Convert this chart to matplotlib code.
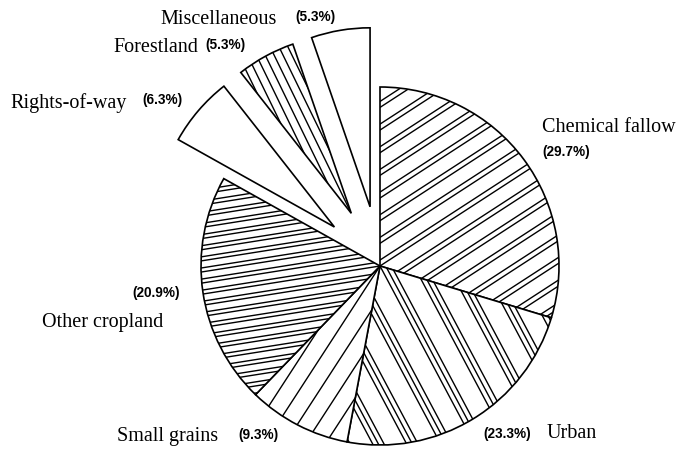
import numpy as np
import matplotlib
matplotlib.use("Agg")
import matplotlib.pyplot as plt

# land use shares (percent), clockwise from 12 o'clock
labels = ["Chemical fallow", "Urban", "Small grains", "Other cropland",
          "Rights-of-way", "Forestland", "Miscellaneous"]
shares = [29.7, 23.3, 9.3, 20.9, 6.3, 5.3, 5.3]
pulled = [False, False, False, False, True, True, True]

# hatch style per wedge: (angle deg, period px, offsets inside period)
hatches = [
    (33, 19, [0, 5]),
    (-62, 30, [0, 5, 10]),
    (57, 17, [0]),
    (9, 11, [0, 4]),
    None,
    (-64, 8, [0]),
    None,
]

W, H = 681, 449
fig = plt.figure(figsize=(W / 100, H / 100), dpi=100)
ax = fig.add_axes([0, 0, 1, 1])

cx, cy, R = 380, H - 266, 179
explode = [60 if p else 0 for p in pulled]  # pie offsets are absolute here
wedges, _ = ax.pie(shares, explode=explode, startangle=90, counterclock=False,
                   radius=R, center=(cx, cy), normalize=True,
                   wedgeprops=dict(facecolor="white", edgecolor="black", linewidth=1.2))
ax.set_xlim(0, W)
ax.set_ylim(0, H)
ax.set_aspect("equal")
ax.axis("off")


def hatch(w, angle, period, offsets):
    t = np.radians(angle)
    d = np.array([np.cos(t), np.sin(t)])
    n = np.array([-np.sin(t), np.cos(t)])
    c = np.array(w.center)
    r = w.r
    kmax = int(r / period) + 2
    for k in range(-kmax, kmax + 1):
        for o in offsets:
            s = k * period + o
            p0 = c + n * s - d * r * 1.2
            p1 = c + n * s + d * r * 1.2
            ln, = ax.plot([p0[0], p1[0]], [p0[1], p1[1]], color="black", lw=1.0)
            ln.set_clip_path(w)


for w, h in zip(wedges, hatches):
    if h:
        hatch(w, *h)

serif = dict(family="Liberation Serif", fontsize=14.5)
pct = dict(family="Liberation Sans", fontsize=9.8, fontweight="bold")

def lab(x, y, name, px, py, p):
    ax.text(x, H - y, name, ha="left", va="center", **serif)
    ax.text(px, H - py, "(%.1f%%)" % p, ha="left", va="center", **pct)

lab(160, 20, labels[6], 295, 17, shares[6])
lab(113, 47, labels[5], 205, 45, shares[5])
lab(10, 103, labels[4], 142, 100, shares[4])
lab(542, 127, labels[0], 542, 152, shares[0])
lab(42, 323, labels[3], 132, 293, shares[3])
lab(117, 437, labels[2], 238, 435, shares[2])
lab(547, 434, labels[1], 483, 434, shares[1])

fig.savefig("out.png", dpi=100)
